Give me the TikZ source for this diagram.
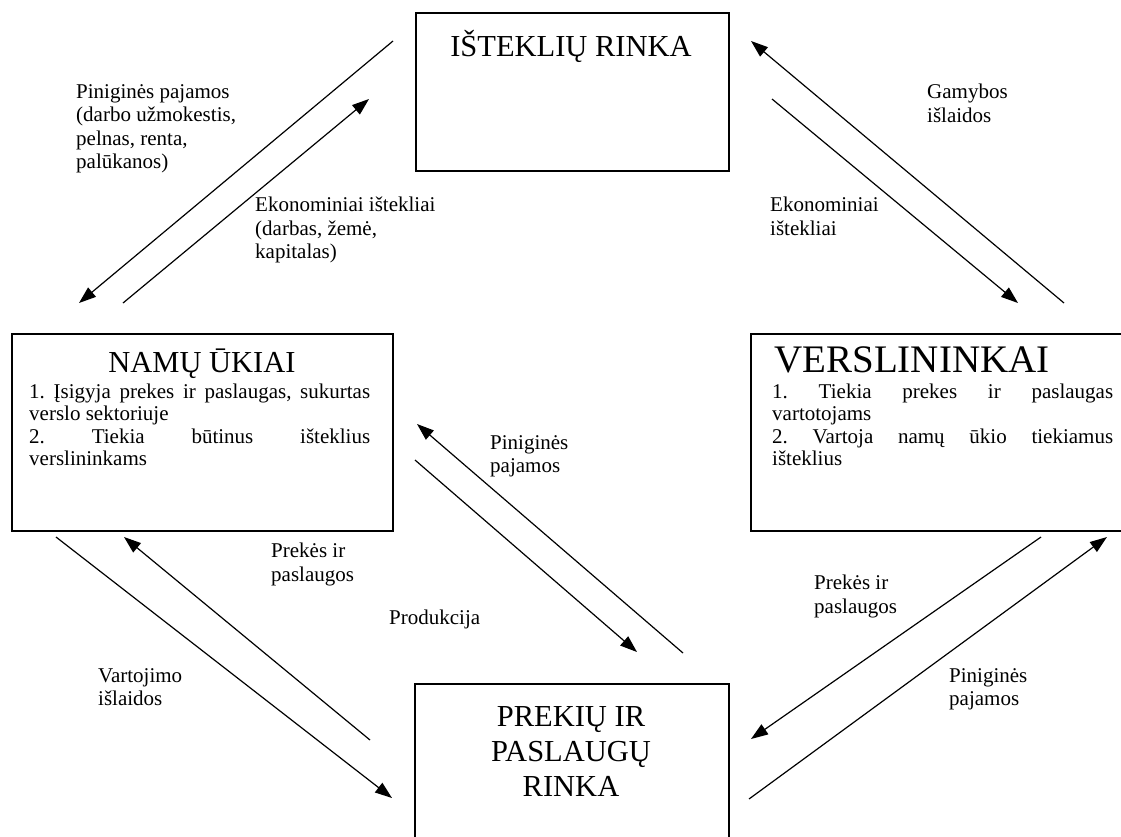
\documentclass[tikz,border=0pt]{standalone}
\usepackage{fontspec}
\setmainfont{Liberation Serif}
\usetikzlibrary{arrows.meta,positioning}

\begin{document}
\begin{tikzpicture}[x=1pt,y=-1pt,
  box/.style={draw,line width=1.8pt,inner sep=0pt,anchor=north west},
  flow/.style={line width=1.2pt,-{Triangle[length=17pt,width=12pt]}},
  lbl/.style={align=left,anchor=north west,inner sep=0pt,
    font=\fontsize{21}{23.5}\selectfont},
  body/.style={align=justify,anchor=base west,inner sep=0pt,text width=341pt,
    font=\fontsize{21}{22.5}\selectfont\frenchspacing},
  ttl/.style={align=center,anchor=base,inner sep=0pt,
    font=\fontsize{30.5}{35}\selectfont}]
    \useasboundingbox (0,0) rectangle (1121,836);
    \clip (0,0) rectangle (1121,836);
    %
    \node[box, minimum width=313pt, minimum height=158pt] (rinka) at (415,12) {};
    \node[box, minimum width=381pt, minimum height=197pt] (ukiai) at (11,333) {};
    \node[box, minimum width=381pt, minimum height=197pt] (versl) at (750,333) {};
    \node[box, minimum width=314pt, minimum height=220pt] (preki) at (414,683) {};
    %
    \node[ttl] (rinkaT) at (571,56) {IŠTEKLIŲ RINKA};
    \node[ttl] (ukiaiT) at (202,372) {NAMŲ ŪKIAI};
    \node[ttl, font=\fontsize{39}{44}\selectfont] (verslT) at (912,372) {VERSLININKAI};
    \node[ttl, anchor=north] (prekiT) at (571,706) {PREKIŲ IR\\PASLAUGŲ\\RINKA};
    %
    \node[body] (ukiaiB) at (29,398) {1. Įsigyja prekes ir paslaugas, sukurtas\linebreak
      verslo sektoriuje\par
      2. Tiekia būtinus išteklius\linebreak verslininkams};
    \node[body] (verslB) at (772,398) {1. Tiekia prekes ir paslaugas\linebreak
      vartotojams\par
      2. Vartoja namų ūkio tiekiamus\linebreak išteklius};
    %
    \coordinate (rh1) at (393,41);   \coordinate (rh2) at (79,303);
    \coordinate (hr1) at (123,303);  \coordinate (hr2) at (369,99);
    \coordinate (vr1) at (1064,303); \coordinate (vr2) at (751,41);
    \coordinate (rv1) at (772,99);   \coordinate (rv2) at (1018,303);
    \coordinate (ph1) at (683,653);  \coordinate (ph2) at (417,424);
    \coordinate (hp1) at (415,460);  \coordinate (hp2) at (637,652);
    \coordinate (hm1) at (56,537);   \coordinate (hm2) at (392,798);
    \coordinate (mh1) at (370,740);  \coordinate (mh2) at (124,537);
    \coordinate (vm1) at (1041,537); \coordinate (vm2) at (751,739);
    \coordinate (mv1) at (749,799);  \coordinate (mv2) at (1107,537);
    %
    \draw[flow] (rh1) -- (rh2);
    \draw[flow] (hr1) -- (hr2);
    \draw[flow] (vr1) -- (vr2);
    \draw[flow] (rv1) -- (rv2);
    \draw[flow] (ph1) -- (ph2);
    \draw[flow] (hp1) -- (hp2);
    \draw[flow] (hm1) -- (hm2);
    \draw[flow] (mh1) -- (mh2);
    \draw[flow] (vm1) -- (vm2);
    \draw[flow] (mv1) -- (mv2);
    %
    \node[lbl] (lPaj) at (76,84) {Piniginės pajamos\\(darbo užmokestis,\\pelnas, renta,\\palūkanos)};
    \node[lbl] (lEkoH) at (255,197) {Ekonominiai ištekliai\\(darbas, žemė,\\kapitalas)};
    \node[lbl] (lGam) at (927,84) {Gamybos\\išlaidos};
    \node[lbl] (lEkoV) at (770,197) {Ekonominiai\\ištekliai};
    \node[lbl] (lPajM) at (490,435) {Piniginės\\pajamos};
    \node[lbl] (lPrekH) at (271,543) {Prekės ir\\paslaugos};
    \node[lbl] (lProd) at (389,610) {Produkcija};
    \node[lbl] (lVart) at (98,668) {Vartojimo\\išlaidos};
    \node[lbl] (lPrekV) at (814,575) {Prekės ir\\paslaugos};
    \node[lbl] (lPajV) at (949,668) {Piniginės\\pajamos};
\end{tikzpicture}
\end{document}
